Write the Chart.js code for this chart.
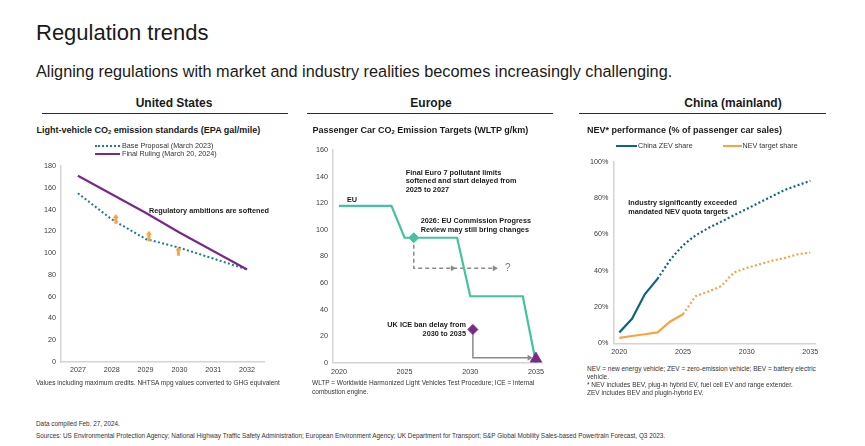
<!DOCTYPE html>
<html><head><meta charset="utf-8">
<script src="https://cdn.jsdelivr.net/npm/chart.js@4.4.1/dist/chart.umd.min.js"></script>
<style>
body{margin:0;background:#fff;font-family:"Liberation Sans",Arial,sans-serif;color:#1a1a1a;}
#page{position:relative;width:865px;height:446px;overflow:hidden;background:#fff;}
.t{position:absolute;white-space:nowrap;}
.t sub{font-size:0.65em;vertical-align:-0.25em;line-height:0;}
canvas{position:absolute;}
.rule{position:absolute;height:1.5px;background:#2b2b2b;}
.sw{position:absolute;height:0;}
</style></head><body><div id="page">
<canvas id="us" width="240" height="224" style="left:30px;top:156px"></canvas>
<canvas id="eu" width="250" height="240" style="left:300px;top:140px"></canvas>
<canvas id="cn" width="245" height="208" style="left:578px;top:152px"></canvas>
</div>
<script>
// ---------- DATA ----------
// United States
const usYears = ['2027','2028','2029','2030','2031','2032'];
const usBaseProposal = [155, 131, 113, 105, 95, 85];
const usFinalRuling = [171, 154, 137, 119, 102, 85];
const usArrowAt = [1.12, 2.1, 2.97];      // category positions
const usArrowFrom = [127, 111, 97.5];
const usArrowTo = [136, 120.5, 106];

// Europe
const euYears = [2020, 2024, 2025, 2029, 2030, 2034, 2035];
const euTargets = [118, 118, 94, 94, 50, 50, 0];
const euReviewX = [2025.7, 2025.7, 2032.0];
const euReviewY = [94, 71, 71];
const ukBanX = [2030.2, 2030.2, 2034.6];
const ukBanY = [25, 3.8, 3.8];
const euArrowX = [2028.9, 2032.1, 2034.75];
const euArrowY = [71, 71, 3.8];
const euTickYears = [2020, 2025, 2030, 2035];

// China
const cnYears = [2020,2021,2022,2023,2024,2025,2026,2027,2028,2029,2030,2031,2032,2033,2034,2035];
const cnZevShare = [6, 13.5, 27, 35.5, 46, 54, 59.5, 63.5, 67, 70.5, 74, 77.5, 81, 84.5, 87, 89.5];
const cnNevTarget = [3, 4, 5, 6, 12, 16, 26, 28.5, 31.5, 39, 41.5, 43.5, 45.5, 47, 49, 50];
const cnZevActualUntil = 2023;
const cnNevActualUntil = 2025;
const cnTickYears = [2020, 2025, 2030, 2035];

// ---------- STYLE ----------
const FONT = '"Liberation Sans", Arial, sans-serif';
const TEAL_US = '#1a7d98', TEAL_CN = '#0d6580', PURPLE = '#782a8a', GREEN = '#45c29f', ORANGE = '#f6a540', GREY = '#8a8a8a';
Chart.defaults.font.family = FONT;
const page = document.getElementById('page');

function T(html, x, cy, size, o = {}) {
  const d = document.createElement('div');
  d.className = 't';
  d.innerHTML = html;
  d.style.fontSize = size + 'px';
  d.style.lineHeight = size + 'px';
  d.style.top = (cy - size * 0.49) + 'px';
  if (o.bold) d.style.fontWeight = 'bold';
  if (o.color) d.style.color = o.color;
  if (o.align === 'right') { d.style.right = (865 - x) + 'px'; }
  else if (o.align === 'center') { d.style.left = x + 'px'; d.style.transform = 'translateX(-50%)'; }
  else d.style.left = x + 'px';
  page.appendChild(d);
}
function rule(x1, x2, y) { const d = document.createElement('div'); d.className = 'rule'; d.style.left = x1 + 'px'; d.style.width = (x2 - x1) + 'px'; d.style.top = y + 'px'; page.appendChild(d); }
function swatch(x1, x2, cy, color, style) { const d = document.createElement('div'); d.className = 'sw'; d.style.left = x1 + 'px'; d.style.width = (x2 - x1) + 'px'; d.style.top = (cy - 1) + 'px'; d.style.borderTop = '2.2px ' + style + ' ' + color; page.appendChild(d); }

T('Regulation trends', 36, 33, 22);
T('Aligning regulations with market and industry realities becomes increasingly challenging.', 36, 71, 16.3);
T('United States', 174, 103, 12, {bold: true, align: 'center'});
T('Europe', 431, 103, 12, {bold: true, align: 'center'});
T('China (mainland)', 733, 103, 12, {bold: true, align: 'center'});
rule(42, 288, 112.5); rule(307, 553, 112.5); rule(579, 826, 112.5);
T('Light-vehicle CO<sub>2</sub> emission standards (EPA gal/mile)', 36.5, 130.5, 9, {bold: true});
T('Passenger Car CO<sub>2</sub> Emission Targets (WLTP g/km)', 312.5, 130.5, 9, {bold: true});
T('NEV* performance (% of passenger car sales)', 587, 130.5, 9, {bold: true});
// legends
swatch(95, 120, 146, TEAL_US, 'dotted'); T('Base Proposal (March 2023)', 122, 145.7, 7.2, {color: '#333'});
swatch(95, 120, 153.5, PURPLE, 'solid'); T('Final Ruling (March 20, 2024)', 122, 153.3, 7.2, {color: '#333'});
swatch(616, 637, 146, TEAL_CN, 'solid'); T('China ZEV share', 638, 146, 7.2, {color: '#333'});
swatch(723, 742, 146, ORANGE, 'solid'); T('NEV target share', 742.5, 146, 7.2, {color: '#333'});
// annotations
T('Regulatory ambitions are softened', 149, 211, 7.3, {bold: true});
T('Final Euro 7 pollutant limits', 405.7, 172.3, 7.3, {bold: true});
T('softened and start delayed from', 405.7, 181, 7.3, {bold: true});
T('2025 to 2027', 405.7, 189.7, 7.3, {bold: true});
T('EU', 347, 200, 7.3, {bold: true});
T('2026: EU Commission Progress', 420.7, 221, 7.3, {bold: true});
T('Review may still bring changes', 420.7, 230, 7.3, {bold: true});
T('UK ICE ban delay from', 466, 325, 7.3, {bold: true, align: 'right'});
T('2030 to 2035', 466, 334, 7.3, {bold: true, align: 'right'});
T('?', 505, 268, 10, {color: '#777'});
T('Industry significantly exceeded', 628.3, 202.5, 7.3, {bold: true});
T('mandated NEV quota targets', 628.3, 211.3, 7.3, {bold: true});
// footnotes
T('Values including maximum credits. NHTSA mpg values converted to GHG equivalent', 36, 383, 6.5, {color: '#333'});
T('WLTP = Worldwide Harmonized Light Vehicles Test Procedure; ICE = internal', 312, 383, 6.5, {color: '#333'});
T('combustion engine.', 312, 392, 6.5, {color: '#333'});
T('NEV = new energy vehicle; ZEV = zero-emission vehicle; BEV = battery electric', 587, 369, 6.5, {color: '#333'});
T('vehicle.', 587, 377, 6.5, {color: '#333'});
T('* NEV includes BEV, plug-in hybrid EV, fuel cell EV and range extender.', 587, 385.5, 6.5, {color: '#333'});
T('ZEV includes BEV and plugin-hybrid EV.', 587, 393.5, 6.5, {color: '#333'});
T('Data compiled Feb. 27, 2024.', 36, 424, 6.4, {color: '#333'});
T('Sources: US Environmental Protection Agency; National Highway Traffic Safety Administration; European Environment Agency; UK Department for Transport; S&amp;P Global Mobility Sales-based Powertrain Forecast, Q3 2023.', 36, 436, 6.4, {color: '#333'});

// ---------- CHART HELPERS ----------
const tickFont = {family: FONT, size: 7.2};
const AXIS = '#d4d4d4';
function yAxis(max, step, width, cb) {
  return {min: 0, max: max, ticks: {stepSize: step, font: tickFont, color: '#3a3a3a', padding: 5, callback: cb},
    grid: {display: false, drawTicks: false}, border: {color: AXIS, width: 1.5},
    afterFit(s) { s.width = width; }};
}
function xLinear(min, max, ticks, height, pad) {
  return {type: 'linear', min: min, max: max,
    afterBuildTicks(s) { s.ticks = ticks.map(v => ({value: v})); },
    ticks: {font: tickFont, color: '#3a3a3a', padding: pad, autoSkip: false, maxRotation: 0, callback: v => String(v)},
    grid: {display: false, drawTicks: false}, border: {color: AXIS, width: 1.5},
    afterFit(s) { s.height = height; }};
}
const baseOpts = (padTop, padRight) => ({
  responsive: false, animation: false, devicePixelRatio: 1,
  layout: {padding: {top: padTop, right: padRight, left: 0, bottom: 0}},
  plugins: {legend: {display: false}, tooltip: {enabled: false}},
  elements: {point: {radius: 0}, line: {tension: 0}}
});
function arrowRight(ctx, px, py, color) {
  ctx.fillStyle = color; ctx.beginPath();
  ctx.moveTo(px, py); ctx.lineTo(px - 5, py - 3); ctx.lineTo(px - 5, py + 3); ctx.closePath(); ctx.fill();
}

// ---------- US ----------
const usArrows = {id: 'usArrows', afterDatasetsDraw(chart) {
  const {ctx, scales: {x, y}} = chart; ctx.save(); ctx.fillStyle = ORANGE;
  usArrowAt.forEach((a, i) => {
    const px = x.getPixelForValue(a), yb = y.getPixelForValue(usArrowFrom[i]), yt = y.getPixelForValue(usArrowTo[i]);
    const head = 4, hw = 3, sw = 1.5;
    ctx.beginPath(); ctx.moveTo(px - sw, yb); ctx.lineTo(px - sw, yt + head); ctx.lineTo(px - hw, yt + head);
    ctx.lineTo(px, yt); ctx.lineTo(px + hw, yt + head); ctx.lineTo(px + sw, yt + head); ctx.lineTo(px + sw, yb); ctx.closePath(); ctx.fill();
  }); ctx.restore();
}};
const usO = baseOpts(10, 6);
usO.scales = {
  x: {type: 'category', offset: true, ticks: {font: tickFont, color: '#3a3a3a', padding: 4},
      grid: {display: false, drawTicks: false}, border: {color: AXIS, width: 1.5}, afterFit(s) { s.height = 18; }},
  y: yAxis(180, 20, 31)
};
new Chart(document.getElementById('us'), {type: 'line', data: {labels: usYears, datasets: [
  {data: usFinalRuling, borderColor: PURPLE, borderWidth: 2.2},
  {data: usBaseProposal, borderColor: TEAL_US, borderWidth: 2, borderDash: [2, 2.3]}
]}, options: usO, plugins: [usArrows]});

// ---------- EUROPE ----------
const zip = (xs, ys) => xs.map((v, i) => ({x: v, y: ys[i]}));
const euArrows = {id: 'euArrows', afterDatasetsDraw(chart) {
  const {ctx, scales: {x, y}} = chart; ctx.save();
  euArrowX.forEach((a, i) => arrowRight(ctx, x.getPixelForValue(a), y.getPixelForValue(euArrowY[i]), GREY));
  ctx.restore();
}};
const euO = baseOpts(10, 5);
euO.scales = {x: xLinear(2019.55, 2035.5, euTickYears, 17.3, 5), y: yAxis(160, 20, 33)};
new Chart(document.getElementById('eu'), {type: 'line', data: {datasets: [
  {data: [{x: euReviewX[0], y: euReviewY[0]}], pointStyle: 'rectRot', pointRadius: 5, backgroundColor: GREEN, borderColor: GREEN, showLine: false},
  {data: [{x: ukBanX[0], y: ukBanY[0]}], pointStyle: 'rectRot', pointRadius: 5, backgroundColor: PURPLE, borderColor: PURPLE, showLine: false},
  {data: [{x: 2035, y: 3}], pointStyle: 'triangle', pointRadius: 6.5, backgroundColor: PURPLE, borderColor: PURPLE, showLine: false},
  {data: zip(euYears, euTargets), borderColor: GREEN, borderWidth: 2.2},
  {data: zip(euReviewX, euReviewY), borderColor: GREY, borderWidth: 1.5, borderDash: [4, 3]},
  {data: zip(ukBanX, ukBanY), borderColor: GREY, borderWidth: 1.5}
]}, options: Object.assign(euO, {clip: false}), plugins: [euArrows]});

// ---------- CHINA ----------
const cnO = baseOpts(9.7, 5);
cnO.scales = {x: xLinear(2019.53, 2035.44, cnTickYears, 16.7, 4.5), y: yAxis(100, 20, 35.3, v => v + '%')};
new Chart(document.getElementById('cn'), {type: 'line', data: {datasets: [
  {data: zip(cnYears, cnZevShare), borderColor: TEAL_CN, borderWidth: 2.2,
   segment: {borderDash: c => c.p0.parsed.x >= cnZevActualUntil ? [2, 2.3] : undefined}},
  {data: zip(cnYears, cnNevTarget), borderColor: ORANGE, borderWidth: 2.2,
   segment: {borderDash: c => c.p0.parsed.x >= cnNevActualUntil ? [2, 2.3] : undefined}}
]}, options: cnO});
</script></body></html>
